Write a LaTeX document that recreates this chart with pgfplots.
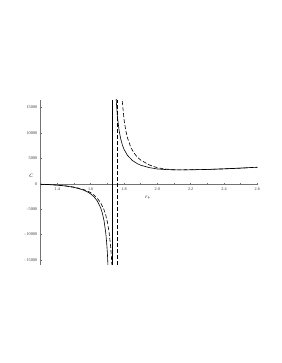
\documentclass[border=0pt]{standalone}
\usepackage{fontspec}
\setmainfont{Liberation Serif}
\usepackage{pgfplots}
\pgfplotsset{compat=1.18}
\begin{document}
\begin{tikzpicture}
\begin{axis}[name=ax, at={(0pt,0pt)}, anchor=south west, scale only axis,
  width=216.6pt, height=165pt,
  xmin=1.3, xmax=2.6, ymin=-16000, ymax=16500,
  axis x line=middle, axis y line=left,
  axis line style={-, black!55, line width=0.5pt},
  xtick={1.4,1.6,1.8,2.0,2.2,2.4,2.6},
  xticklabels={1.4,1.6,1.8,2.0,2.2,2.4,2.6},
  minor xtick={1.5,1.7,1.9,2.1,2.3,2.5},
  ytick={-15000,-10000,-5000,0,5000,10000,15000},
  yticklabels={-\,15000,-\,10000,-\,5000,0,5000,10000,15000},
  minor ytick={-14000,-13000,-12000,-11000,-9000,-8000,-7000,-6000,-4000,-3000,-2000,-1000,1000,2000,3000,4000,6000,7000,8000,9000,11000,12000,13000,14000,16000},
  major tick length=2.2pt, minor tick length=1.2pt,
  tick style={black!55, line width=0.4pt},
  tick align=center,
  ticklabel style={font=\fontsize{4.2}{5}\selectfont, text=black!80},
  xticklabel style={yshift=1pt},
  yticklabel style={xshift=1pt},
  scaled y ticks=false,
  clip=true]
\addplot[black, line width=0.6pt] coordinates {
(1.30,-97)(1.35,-169)(1.40,-280)(1.45,-449)(1.50,-715)(1.55,-1162)(1.58,-1592)(1.60,-2000)(1.62,-2564)(1.64,-3401)(1.66,-4749)(1.67,-5785)(1.68,-7267)(1.69,-9555)(1.695,-11238)(1.70,-13547)(1.705,-16908)};
\addplot[black, line width=0.6pt] coordinates {
(1.752,17300)(1.755,15594)(1.76,13431)(1.77,10614)(1.78,8862)(1.79,7667)(1.80,6800)(1.82,5628)(1.85,4588)(1.88,3958)(1.90,3662)(1.95,3194)(2.00,2915)(2.05,2800)(2.10,2747)(2.15,2733)(2.20,2746)(2.30,2823)(2.40,2944)(2.50,3092)(2.60,3258)};
\addplot[black, line width=0.6pt] coordinates {(1.727,-16000)(1.727,16500)};
\addplot[black, line width=0.6pt, dash pattern=on 4pt off 2pt] coordinates {
(1.30,-96)(1.35,-157)(1.40,-254)(1.45,-409)(1.50,-653)(1.55,-1052)(1.58,-1421)(1.60,-1755)(1.62,-2226)(1.64,-2860)(1.66,-3758)(1.68,-5129)(1.69,-6126)(1.70,-7479)(1.71,-9420)(1.72,-12439)(1.725,-14679)(1.73,-17781)};
\addplot[black, line width=0.6pt, dash pattern=on 4pt off 2pt] coordinates {
(1.785,18629)(1.79,16084)(1.80,12720)(1.81,10594)(1.82,9127)(1.84,7223)(1.86,6048)(1.88,5252)(1.90,4672)(1.95,3727)(2.00,3149)(2.05,2901)(2.10,2753)(2.15,2744)(2.20,2776)(2.30,2819)(2.40,2926)(2.50,3072)(2.60,3242)};
\addplot[black, line width=0.6pt, dash pattern=on 4pt off 2pt] coordinates {(1.757,-16000)(1.757,16500)};
\end{axis}
\node[font=\fontsize{5}{6}\selectfont\itshape] at (-9.7pt,89pt) {C};
\node[font=\fontsize{5}{6}\selectfont] at (107.3pt,67pt) {\textit{r}\textsubscript{+}};
\path (-40.7pt,-98pt) rectangle (240.3pt,265pt);
\end{tikzpicture}
\end{document}
